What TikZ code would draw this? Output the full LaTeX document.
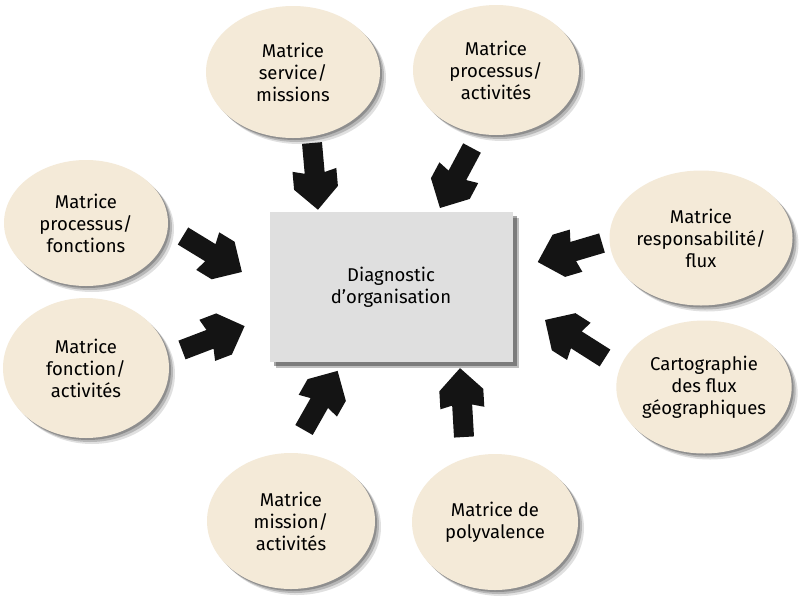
\documentclass[tikz,border=0pt]{standalone}
\usepackage{fontspec}
\setmainfont{Fira Sans}
\usetikzlibrary{shapes.geometric,shadows}
\definecolor{cream}{HTML}{F4EAD8}
\definecolor{boxgray}{HTML}{DFDFDF}
\tikzset{
  bubble/.style={ellipse, fill=cream, inner sep=0pt, align=center,
    font=\fontsize{18.5}{22}\selectfont,
    drop shadow={shadow xshift=6pt, shadow yshift=-6pt, fill=black, opacity=0.12},
    drop shadow={shadow xshift=4pt, shadow yshift=-4pt, fill=black, opacity=0.18},
    drop shadow={shadow xshift=2pt, shadow yshift=-2pt, fill=black, opacity=0.22}},
  centerbox/.style={rectangle, fill=boxgray, inner sep=0pt, align=center,
    minimum width=243pt, minimum height=150pt,
    font=\fontsize{18.5}{22}\selectfont,
    drop shadow={shadow xshift=6pt, shadow yshift=-6pt, fill=black, opacity=0.25},
    drop shadow={shadow xshift=4pt, shadow yshift=-4pt, fill=black, opacity=0.35}},
  pics/barr/.style={code={
    \fill[black!92] (0,-10) -- (#1-37,-10) -- (#1-40,-22) -- (#1-22,-22) -- (#1,0)
      -- (#1-22,22) -- (#1-40,22) -- (#1-37,10) -- (0,10) -- cycle;}}
}
\begin{document}
\begin{tikzpicture}[x=1pt,y=-1pt]
\useasboundingbox (0,0) rectangle (800,603);
\fill[white] (0,0) rectangle (800,603);

\node[centerbox] (diag) at (391,287) {Diagnostic\\d’organisation};

\node[bubble, minimum width=174pt, minimum height=132pt] (e1) at (293,72) {Matrice\\service/\\missions};
\node[bubble, minimum width=166pt, minimum height=130pt] (e2) at (496,70) {Matrice\\processus/\\activités};
\node[bubble, minimum width=164pt, minimum height=126pt] (e3) at (86,223) {Matrice\\processus/\\fonctions};
\node[bubble, minimum width=166pt, minimum height=140pt] (e4) at (86,368) {Matrice\\fonction/\\activités};
\node[bubble, minimum width=162pt, minimum height=135pt] (e5) at (701,238) {Matrice\\responsabilité/\\flux};
\node[bubble, minimum width=165pt, minimum height=133pt] (e6) at (704,387) {Cartographie\\des flux\\géographiques};
\node[bubble, minimum width=168pt, minimum height=136pt] (e7) at (291,521) {Matrice\\mission/\\activités};
\node[bubble, minimum width=166pt, minimum height=136pt] (e8) at (495,522) {Matrice de\\polyvalence};

\pic[rotate=-84.9] at (312,143) {barr=67};
\pic[rotate=-118.1] at (472,148) {barr=68};
\pic[rotate=-31.4] at (183,236) {barr=69};
\pic[rotate=20.9] at (182,350) {barr=67};
\pic[rotate=-163.5] at (602,243) {barr=67};
\pic[rotate=147.6] at (605,358) {barr=71};
\pic[rotate=60.4] at (304,430) {barr=68};
\pic[rotate=93.3] at (464,437) {barr=69};
\end{tikzpicture}
\end{document}
